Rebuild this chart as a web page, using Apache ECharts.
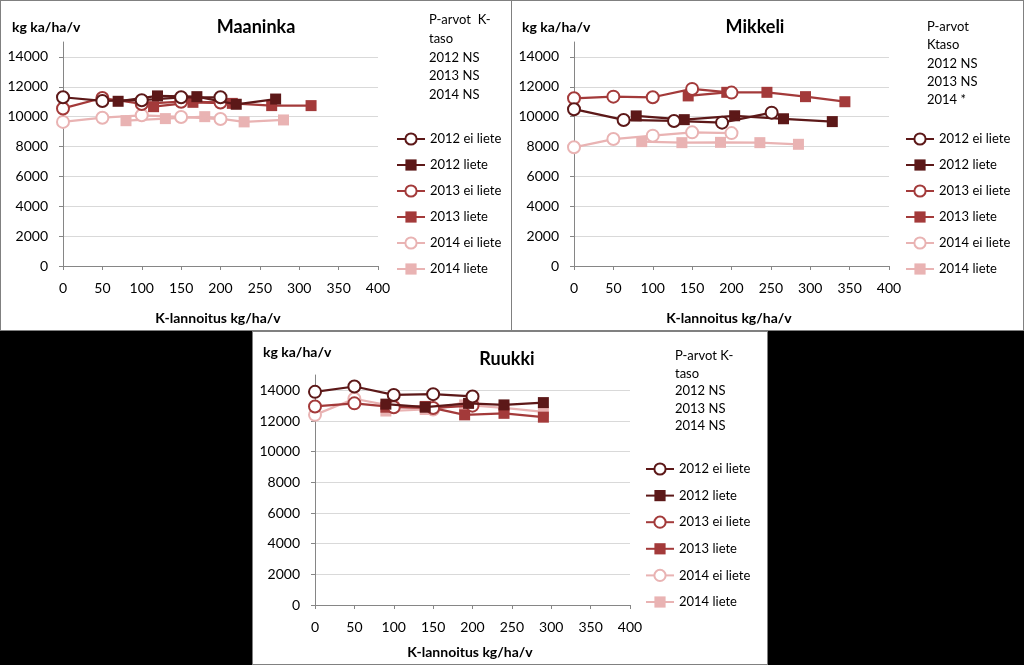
<!DOCTYPE html>
<html><head><meta charset="utf-8">
<script src="https://cdn.jsdelivr.net/npm/echarts@6/dist/echarts.min.js"></script>
<style>
html,body{margin:0;padding:0;background:#000;width:1024px;height:665px;overflow:hidden;}
.panel{position:absolute;background:#fff;border:1px solid #808080;box-sizing:border-box;}
.chart{position:absolute;left:0;top:0;width:100%;height:100%;}
</style></head>
<body>
<div class="panel" style="left:0;top:0;width:512px;height:331px;"><div id="c1" class="chart"></div></div>
<div class="panel" style="left:511px;top:0;width:513px;height:331px;"><div id="c2" class="chart"></div></div>
<div class="panel" style="left:252px;top:331px;width:516px;height:334px;"><div id="c3" class="chart"></div></div>
<script>
// ---- data ----
const seriesNames = ['2012 ei liete','2012 liete','2013 ei liete','2013 liete','2014 ei liete','2014 liete'];
const xTicks = [0,50,100,150,200,250,300,350,400];
const yTicks = [0,2000,4000,6000,8000,10000,12000,14000];

const maa2012ei = [[0,11300],[50,11050],[100,11100],[150,11300],[200,11300]];
const maa2012li = [[70,11030],[120,11390],[170,11340],[220,10830],[270,11180]];
const maa2013ei = [[0,10550],[50,11250],[100,10850],[150,11000],[200,10950]];
const maa2013li = [[115,10670],[165,10960],[215,10890],[265,10740],[315,10740]];
const maa2014ei = [[0,9650],[50,9930],[100,10090],[150,9980],[200,9840]];
const maa2014li = [[80,9730],[130,9870],[180,10000],[230,9650],[280,9780]];

const mik2012ei = [[0,10500],[63,9780],[127,9710],[188,9600],[251,10270]];
const mik2012li = [[79,10050],[140,9800],[204,10060],[266,9860],[328,9670]];
const mik2013ei = [[0,11230],[50,11340],[100,11300],[150,11860],[200,11610]];
const mik2013li = [[145,11390],[194,11630],[245,11630],[294,11340],[344,11000]];
const mik2014ei = [[0,7950],[50,8500],[100,8730],[150,8950],[200,8900]];
const mik2014li = [[86,8330],[137,8260],[186,8280],[236,8260],[285,8150]];

const ruu2012ei = [[0,13900],[50,14250],[100,13700],[150,13750],[200,13600]];
const ruu2012li = [[90,13100],[140,12900],[195,13150],[240,13050],[290,13200]];
const ruu2013ei = [[0,12950],[50,13150],[100,12900],[150,12850],[200,13000]];
const ruu2013li = [[90,12900],[140,12950],[190,12400],[240,12500],[290,12250]];
const ruu2014ei = [[0,12400],[50,13450],[100,12950],[150,12750],[200,13350]];
const ruu2014li = [[90,12650],[140,12750],[190,13050],[240,12850],[290,12600]];

const titles = ['Maaninka','Mikkeli','Ruukki'];
const pTexts = [
  ['P-arvot  K-','taso','2012 NS','2013 NS','2014 NS'],
  ['P-arvot','Ktaso','2012 NS','2013 NS','2014 *'],
  ['P-arvot K-','taso','2012 NS','2013 NS','2014 NS']
];
const yName = 'kg ka/ha/v';
const xName = 'K-lannoitus kg/ha/v';

// ---- styling ----
const colors = ['#5c1818','#5c1818','#a33a3a','#a33a3a','#e9b3b3','#e9b3b3'];
const FONT = 'Lato, "Open Sans", sans-serif';

function build(datasets, title, ptext, L) {
  const series = datasets.map((d, i) => {
    const empty = i % 2 === 0;
    return {
      name: seriesNames[i], type: 'line', data: d,
      symbol: empty ? 'circle' : 'rect',
      symbolSize: empty ? 12 : 11,
      lineStyle: {color: colors[i], width: 2.25},
      itemStyle: empty ? {color: '#fff', borderColor: colors[i], borderWidth: 2}
                       : {color: colors[i], borderColor: colors[i], borderWidth: 0},
      color: colors[i],
      z: 10 - i, animation: false
    };
  });
  const g = [
    {type:'text', x: L.titleX, y: L.titleY, style:{text:title, font:'bold 18px '+FONT, fill:'#000', align:'center', verticalAlign:'middle'}},
    {type:'text', x: L.yNameX, y: L.yNameY, style:{text:yName, font:'bold 14px '+FONT, fill:'#000', align:'left', verticalAlign:'middle'}},
    {type:'text', x: L.xNameX, y: L.xNameY, style:{text:xName, font:'bold 14px '+FONT, fill:'#000', align:'center', verticalAlign:'middle'}}
  ];
  ptext.forEach((t, k) => g.push({type:'text', x: L.pX, y: L.pY + k * L.pGap,
    style:{text:t, font:'13px '+FONT, fill:'#000', align:'left', verticalAlign:'middle'}}));
  return {
    backgroundColor: 'transparent',
    animation: false,
    grid: {left: L.gl, top: L.gt, width: 315, height: L.gh},
    xAxis: {type:'value', min:0, max:400, interval:50,
      axisLine:{show:true, onZero:false, lineStyle:{color:'#868686'}},
      axisTick:{show:true, length:4, lineStyle:{color:'#868686'}},
      axisLabel:{color:'#000', fontSize:14, fontFamily:FONT, margin:15,
        formatter: v => xTicks.includes(v) ? String(v) : ''},
      splitLine:{show:false}},
    yAxis: {type:'value', min:0, max:15000, interval:2000,
      axisLine:{show:true, lineStyle:{color:'#868686'}},
      axisTick:{show:true, length:4, lineStyle:{color:'#868686'}},
      axisLabel:{color:'#000', fontSize:14, fontFamily:FONT, margin:15, showMaxLabel:false,
        formatter: v => yTicks.includes(v) ? String(v) : ''},
      splitLine:{show:true, showMaxLine:false, lineStyle:{color:'#d9d9d9', width:1}}},
    legend: {orient:'vertical', left: L.lx, top: L.ly, itemWidth:28, itemHeight:14, itemGap: L.lgap,
      textStyle:{fontSize:13, fontFamily:FONT, color:'#000', lineHeight:14},
      data: seriesNames},
    graphic: g,
    series: series
  };
}

const c1 = echarts.init(document.getElementById('c1'), null, {renderer:'canvas'});
c1.setOption(build([maa2012ei,maa2012li,maa2013ei,maa2013li,maa2014ei,maa2014li], titles[0], pTexts[0],
  {gl:62, gt:41, gh:224, titleX:255, titleY:26, yNameX:11, yNameY:26, xNameX:217, xNameY:317,
   pX:428, pY:19, pGap:18.7, lx:390, ly:126, lgap:12}));

const c2 = echarts.init(document.getElementById('c2'), null, {renderer:'canvas'});
c2.setOption(build([mik2012ei,mik2012li,mik2013ei,mik2013li,mik2014ei,mik2014li], titles[1], pTexts[1],
  {gl:62, gt:41, gh:224, titleX:243, titleY:26, yNameX:10, yNameY:26, xNameX:217, xNameY:317,
   pX:415, pY:26, pGap:18.2, lx:388, ly:126, lgap:12}));

const c3 = echarts.init(document.getElementById('c3'), null, {renderer:'canvas'});
c3.setOption(build([ruu2012ei,ruu2012li,ruu2013ei,ruu2013li,ruu2014ei,ruu2014li], titles[2], pTexts[2],
  {gl:62, gt:43, gh:230, titleX:254, titleY:27, yNameX:10, yNameY:20, xNameX:217, xNameY:320,
   pX:422, pY:24, pGap:17.5, lx:387, ly:125, lgap:12.6}));
</script>
</body></html>
